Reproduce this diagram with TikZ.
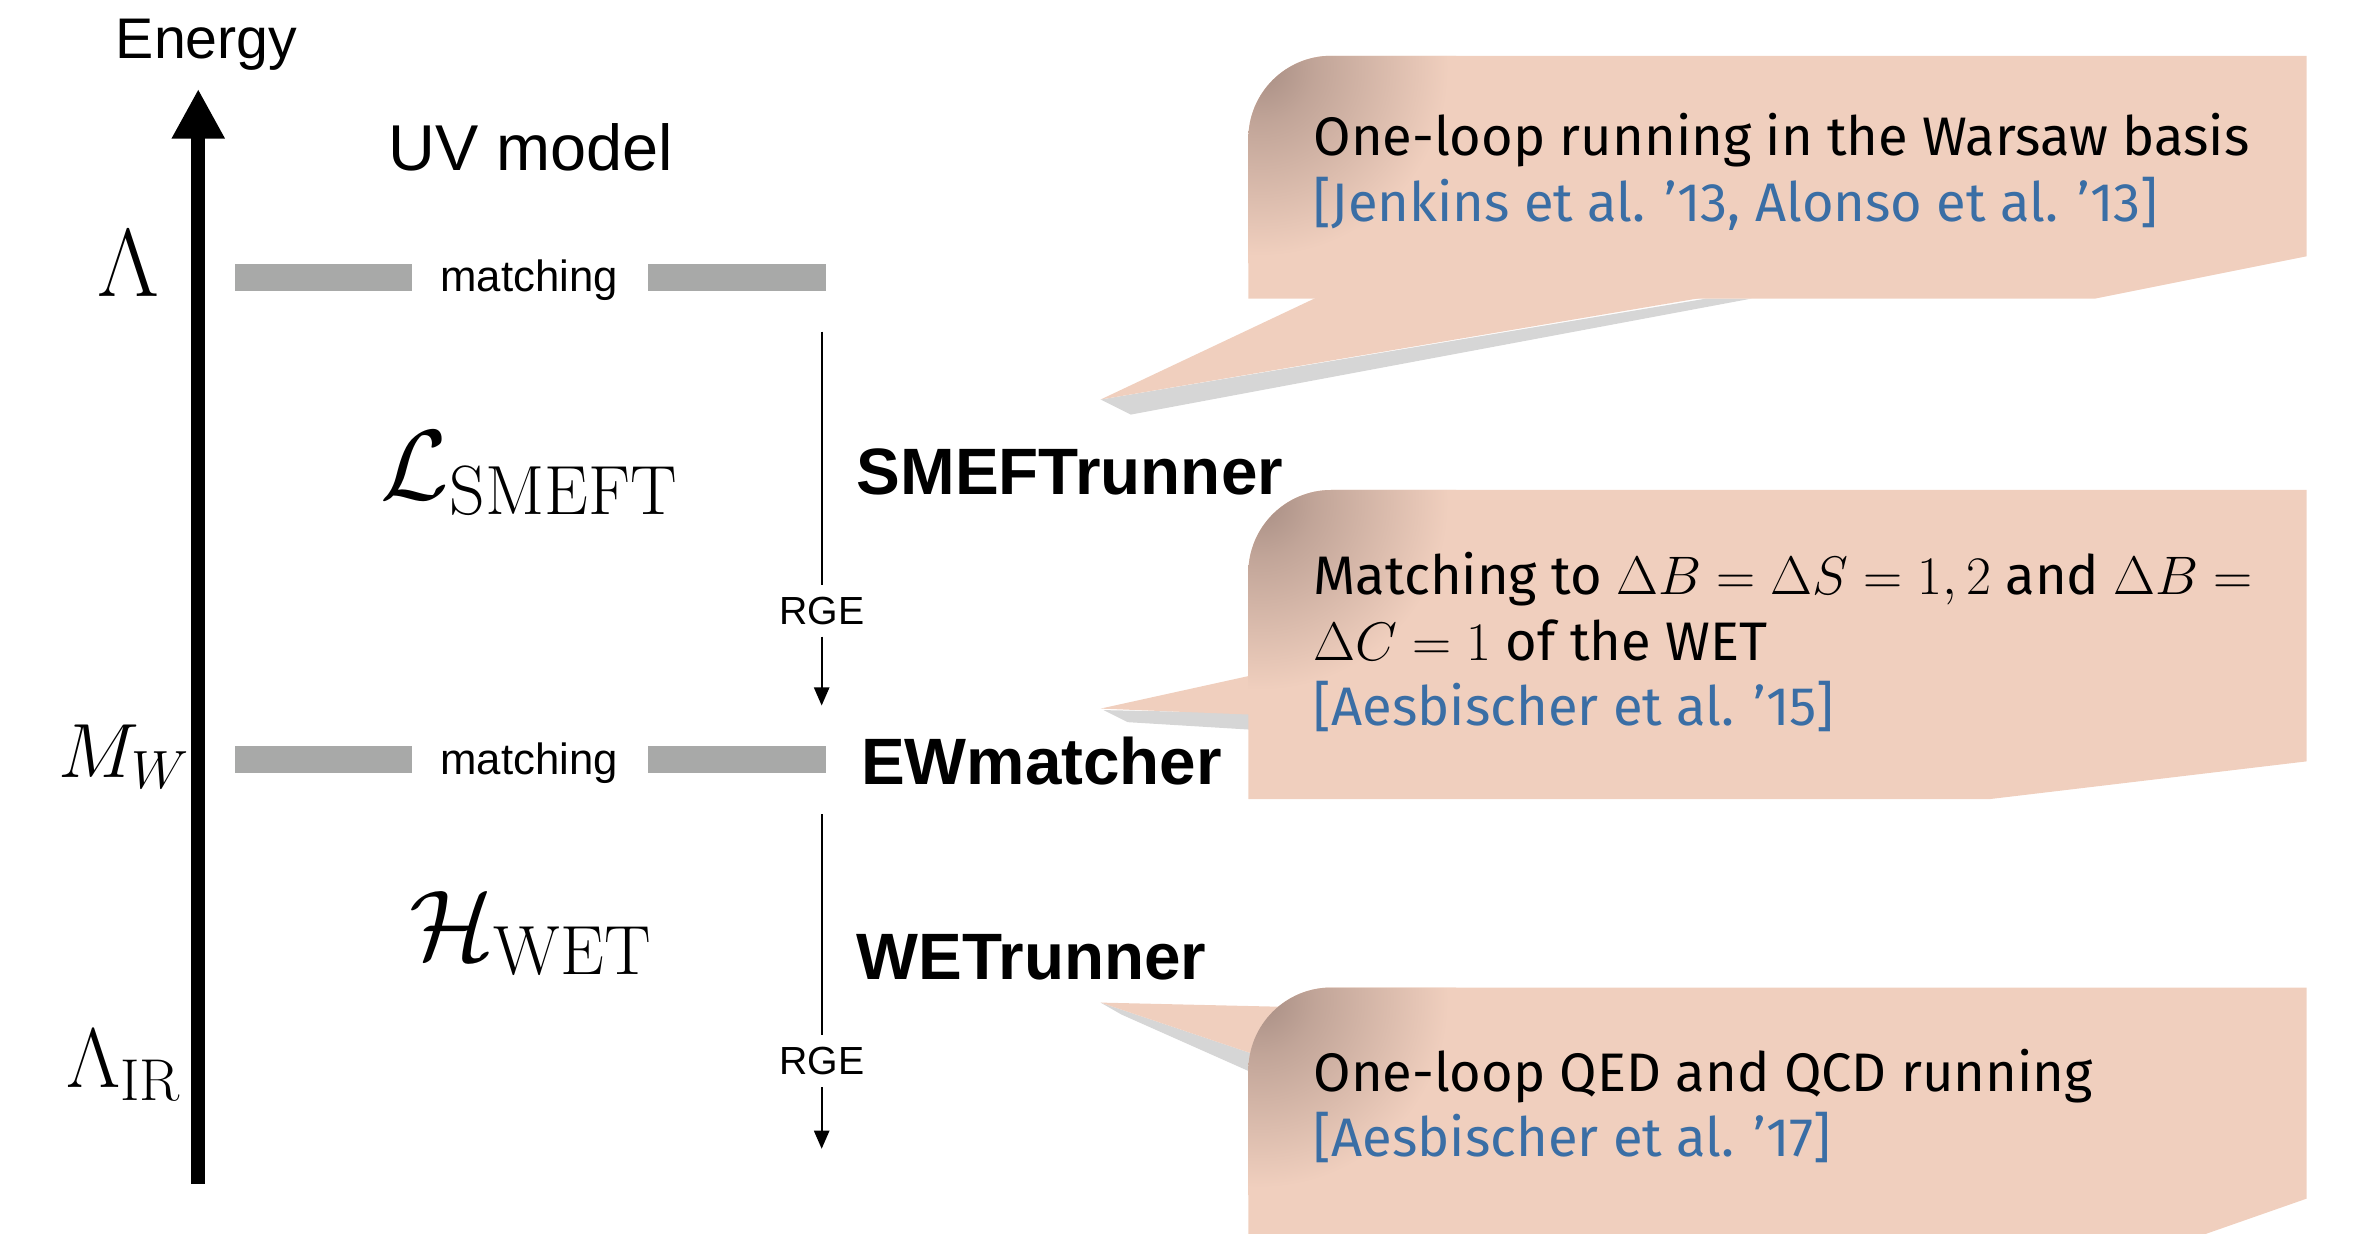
\documentclass[tikz,border=0pt]{standalone}
\usepackage{fix-cm}
\usepackage{fontspec}
\newfontfamily\helv{Liberation Sans}
\newfontfamily\fira{Fira Sans}
\usetikzlibrary{arrows.meta}

\definecolor{peach}{HTML}{F0CFBE}
\definecolor{curlbrown}{HTML}{A88E84}
\colorlet{curlmid}{curlbrown!65!peach}
\definecolor{citeblue}{HTML}{3A6EA5}
\definecolor{bargray}{HTML}{A8A9A8}
\definecolor{shadowgray}{HTML}{D6D6D6}

% darker fold at the rounded corner of each callout
\pgfdeclareradialshading{curl}{\pgfpoint{0bp}{0bp}}{color(0bp)=(curlbrown); color(7bp)=(curlmid); color(24bp)=(peach); color(50bp)=(peach)}

\tikzset{
  lbl/.style={inner sep=0pt},
  energylbl/.style={lbl, font=\helv\fontsize{38}{42}\selectfont},
  modellbl/.style={lbl, font=\helv\fontsize{43}{48}\selectfont},
  lamlbl/.style={lbl, font=\fontsize{64}{68}\selectfont},
  mwlbl/.style={lbl, font=\fontsize{51}{56}\selectfont},
  irlbl/.style={lbl, font=\fontsize{56}{60}\selectfont},
  lagrlbl/.style={lbl, font=\fontsize{66}{72}\selectfont},
  runnerlbl/.style={lbl, anchor=west, font=\helv\bfseries\fontsize{43.5}{50}\selectfont},
  rgelbl/.style={inner sep=0pt, outer sep=8pt, font=\helv\fontsize{26}{30}\selectfont},
  matchlbl/.style={lbl, font=\helv\fontsize{29}{34}\selectfont},
  levelbar/.style={fill=bargray, draw=none},
  thinline/.style={line width=1.5pt},
  flow/.style={line width=1.5pt, -{Triangle[length=12pt,width=10pt]}},
  callout/.style={fill=peach, draw=none},
  calltext/.style={lbl, anchor=base west, font=\fira\fontsize{36}{44}\selectfont},
  citetext/.style={calltext, text=citeblue},
  shadowfill/.style={fill=shadowgray, draw=none}
}

\begin{document}
\begin{tikzpicture}[x=1pt,y=-1pt]
\useasboundingbox (0,0) rectangle (1568,818);

% ---------- energy axis ----------
\coordinate (ebot) at (131.5,785);
\coordinate (etop) at (131.5,59);
\draw[line width=9pt, -{Triangle[length=33pt,width=33pt]}] (ebot) -- (etop);
\node[energylbl] (energy) at (137,30) {Energy};

% ---------- scales ----------
\node[lamlbl] (lam) at (85,175) {$\Lambda$};
\node[mwlbl] (mw) at (82,502) {$M_W$};
\node[irlbl] (lamir) at (82,707) {$\Lambda_{\mathrm{IR}}$};

\node[modellbl] (uv) at (352,98) {UV model};
\node[lagrlbl] (lsmeft) at (351,314) {$\mathcal{L}_{\mathrm{SMEFT}}$};
\node[lagrlbl] (hwet) at (352,619) {$\mathcal{H}_{\mathrm{WET}}$};

% ---------- matching levels ----------
\fill[levelbar] (156,175) rectangle (273,193);
\fill[levelbar] (430,175) rectangle (548,193);
\node[matchlbl] (match1) at (351,186) {matching};
\fill[levelbar] (156,495) rectangle (273,513);
\fill[levelbar] (430,495) rectangle (548,513);
\node[matchlbl] (match2) at (351,506) {matching};

% ---------- running ----------
\coordinate (f1top) at (545,220);
\coordinate (f1bot) at (545,468);
\node[rgelbl] (rge1) at (545,405) {RGE};
\draw[thinline] (f1top) -- (rge1.north);
\draw[flow] (rge1.south) -- (f1bot);

\coordinate (f2top) at (545,540);
\coordinate (f2bot) at (545,762);
\node[rgelbl] (rge2) at (545,704) {RGE};
\draw[thinline] (f2top) -- (rge2.north);
\draw[flow] (rge2.south) -- (f2bot);

\node[runnerlbl] (smeft) at (568,313) {SMEFTrunner};
\node[runnerlbl] (ewm) at (571,505) {EWmatcher};
\node[runnerlbl] (wet) at (568,635) {WETrunner};

% ---------- callout 1 ----------
\fill[shadowfill] (730,265) -- (750,275) -- (1162,198) -- (1132,198) -- cycle;
\fill[callout] (874,197) -- (730,265) -- (1132,197) -- cycle;
\def\boxone{(828,198) -- (828,92) arc[start angle=180,end angle=90,radius=55pt] -- (1530,37) -- (1530,170) -- (1390,198) -- cycle}
\fill[callout] \boxone;
\begin{scope}
  \clip \boxone;
  \shade[shading=curl] (836,45) circle (130pt);
\end{scope}
\node[calltext] (c1a) at (871,103) {One-loop running in the Warsaw basis};
\node[citetext] (c1b) at (871,147) {[Jenkins et al. ’13, Alonso et al. ’13]};

% ---------- callout 2 ----------
\fill[shadowfill] (732,471) -- (748,479) -- (830,484) -- (830,473) -- cycle;
\fill[callout] (830,448) -- (730,470) -- (830,474) -- cycle;
\def\boxtwo{(828,530) -- (828,380) arc[start angle=180,end angle=90,radius=55pt] -- (1530,325) -- (1530,505) -- (1320,530) -- cycle}
\fill[callout] \boxtwo;
\begin{scope}
  \clip \boxtwo;
  \shade[shading=curl] (836,333) circle (130pt);
\end{scope}
\node[calltext] (c2a) at (871,394) {Matching to $\Delta B=\Delta S=1,2$ and $\Delta B=$};
\node[calltext] (c2b) at (871,438) {$\Delta C=1$ of the WET};
\node[citetext] (c2c) at (871,481) {[Aesbischer et al. ’15]};

% ---------- callout 3 ----------
\fill[shadowfill] (730,665) -- (744,673) -- (834,713) -- (834,700) -- cycle;
\fill[callout] (860,668) -- (730,665) -- (834,700) -- cycle;
\def\boxthree{(828,830) -- (828,710) arc[start angle=180,end angle=90,radius=55pt] -- (1530,655) -- (1530,795) -- (1430,830) -- cycle}
\fill[callout] \boxthree;
\begin{scope}
  \clip \boxthree;
  \shade[shading=curl] (836,663) circle (130pt);
\end{scope}
\node[calltext] (c3a) at (871,724) {One-loop QED and QCD running};
\node[citetext] (c3b) at (871,767) {[Aesbischer et al. ’17]};

\end{tikzpicture}
\end{document}
